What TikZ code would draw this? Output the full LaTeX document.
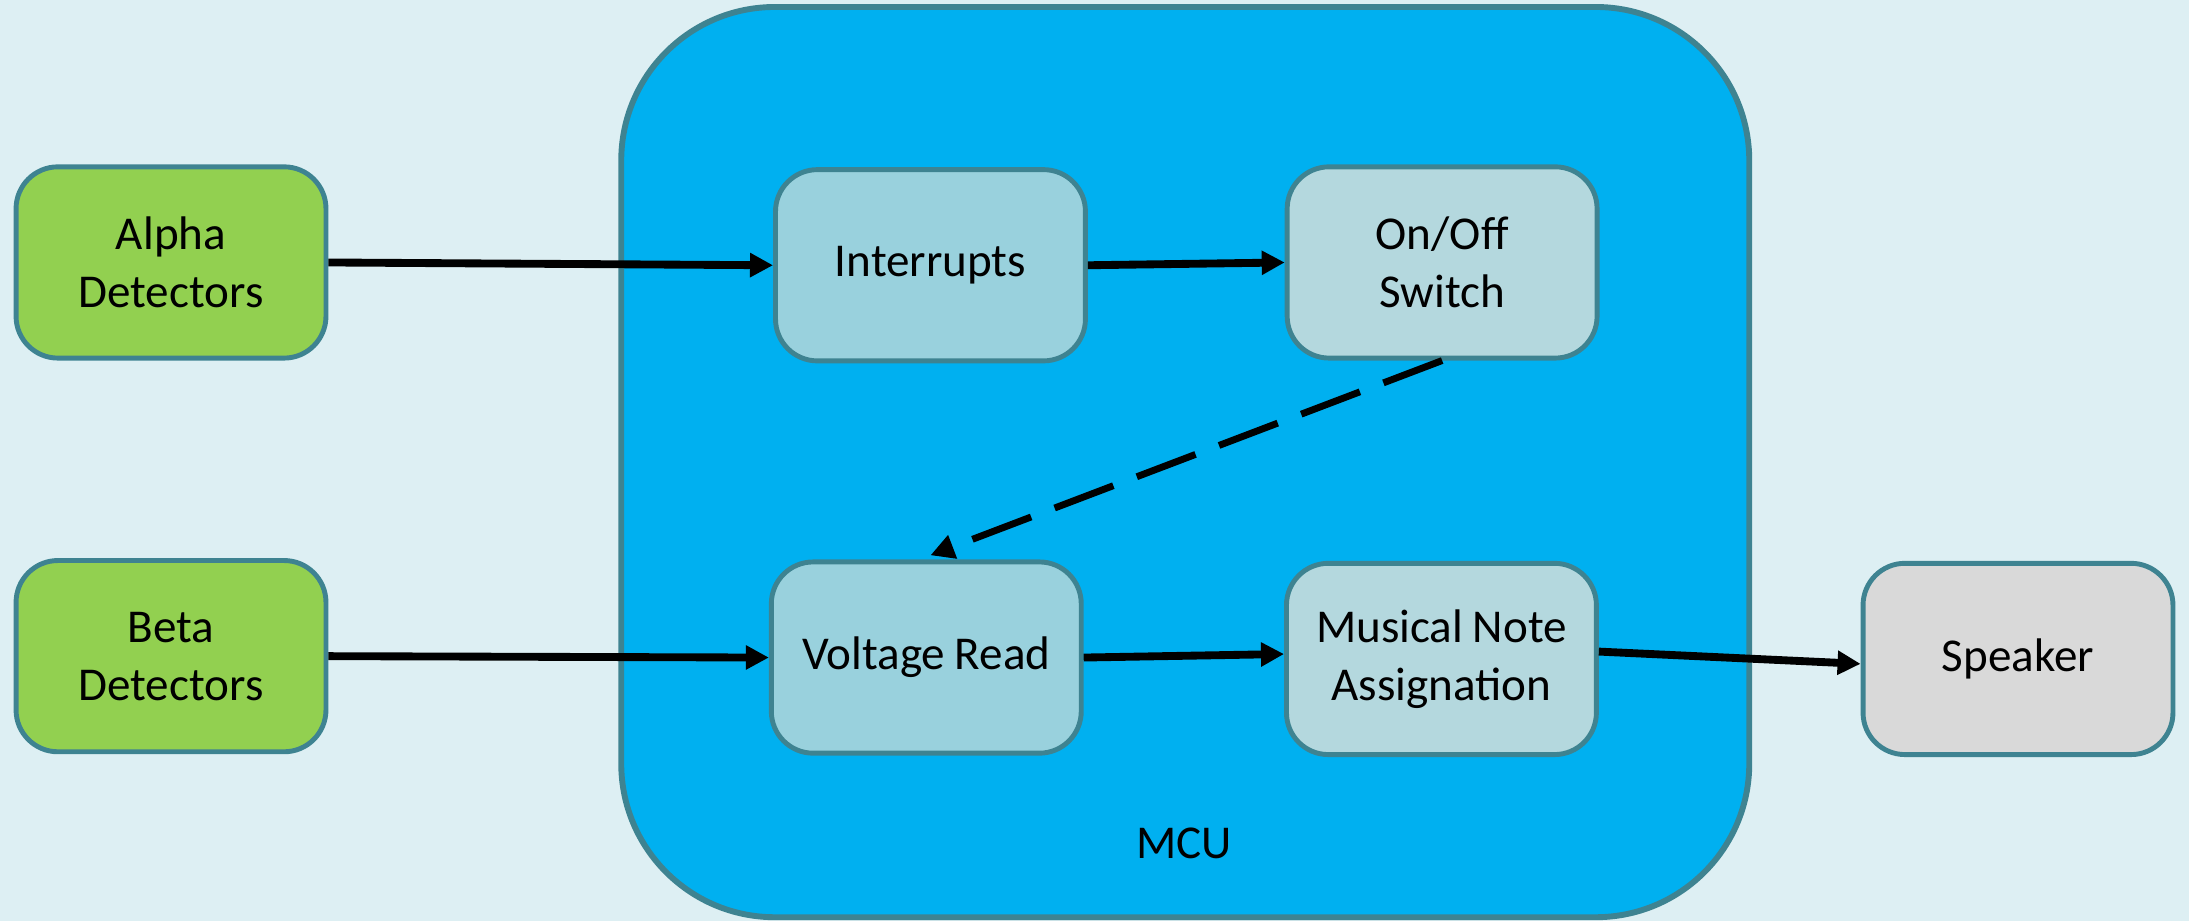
\documentclass[tikz,border=0pt]{standalone}
\usepackage{fontspec}
\setmainfont{Carlito}[WordSpace=0.9]
\usetikzlibrary{arrows.meta}
\definecolor{bgcol}{HTML}{DDEFF3}
\definecolor{mcucol}{HTML}{00B0F0}
\definecolor{edgecol}{HTML}{3E8391}
\definecolor{detcol}{HTML}{92D050}
\definecolor{taskcol}{HTML}{99D1DD}
\definecolor{outcol}{HTML}{B4D8DE}
\definecolor{spkcol}{HTML}{D9D9D9}
\begin{document}
\begin{tikzpicture}[
  box/.style={draw=edgecol, line width=1pt, rounded corners=0.3cm,
    minimum width=2.22cm, minimum height=1.37cm, text width=1.9cm,
    align=flush center, font=\fontsize{9.6}{11.8}\selectfont},
  flow/.style={line width=1.6pt, -{Triangle[length=0.165cm,width=0.165cm]}},
  >=Triangle
]
\useasboundingbox (0,0) rectangle (15.68,6.60);
\fill[bgcol] (0,0) rectangle (15.68,6.60);

\node[draw=edgecol, fill=mcucol, line width=1.2pt, rounded corners=1.1cm,
  minimum width=8.08cm, minimum height=6.52cm] (mcu) at (8.49,3.29) {};
\node[font=\fontsize{9.6}{11.8}\selectfont] (mculabel) at (8.48,0.56) {MCU};

\begin{scope}[shift={(0,0)}]
\node[box, fill=detcol] (alpha) at (1.225,4.72) {Alpha\\Detectors};
\node[box, fill=detcol] (beta) at (1.225,1.90) {Beta\\Detectors};
\end{scope}

\begin{scope}[shift={(0,0)}]
\node[box, fill=taskcol] (intr) at (6.665,4.70) {Interrupts};
\node[box, fill=outcol] (onoff) at (10.33,4.72) {On/Off\\Switch};
\node[box, fill=taskcol] (volt) at (6.635,1.89) {Voltage Read};
\node[box, fill=outcol] (note) at (10.325,1.88) {Musical Note\\Assignation};
\end{scope}

\node[box, fill=spkcol] (spk) at (14.455,1.88) {Speaker};

\draw[flow] (alpha.east) -- (intr.west);
\draw[flow] (intr.east) -- (onoff.west);
\draw[flow] (beta.east) -- (volt.west);
\draw[flow] (volt.east) -- ([yshift=1pt]note.west);
\draw[flow] ([yshift=1.5pt]note.east) -- ([yshift=-1pt]spk.west);
\draw[line width=1.4pt, dash pattern=on 0.45cm off 0.18cm,
  -{Triangle[length=0.17cm,width=0.17cm]}]
  (onoff.south) -- ([xshift=0.03cm,yshift=0.03cm]volt.north);
\end{tikzpicture}
\end{document}
